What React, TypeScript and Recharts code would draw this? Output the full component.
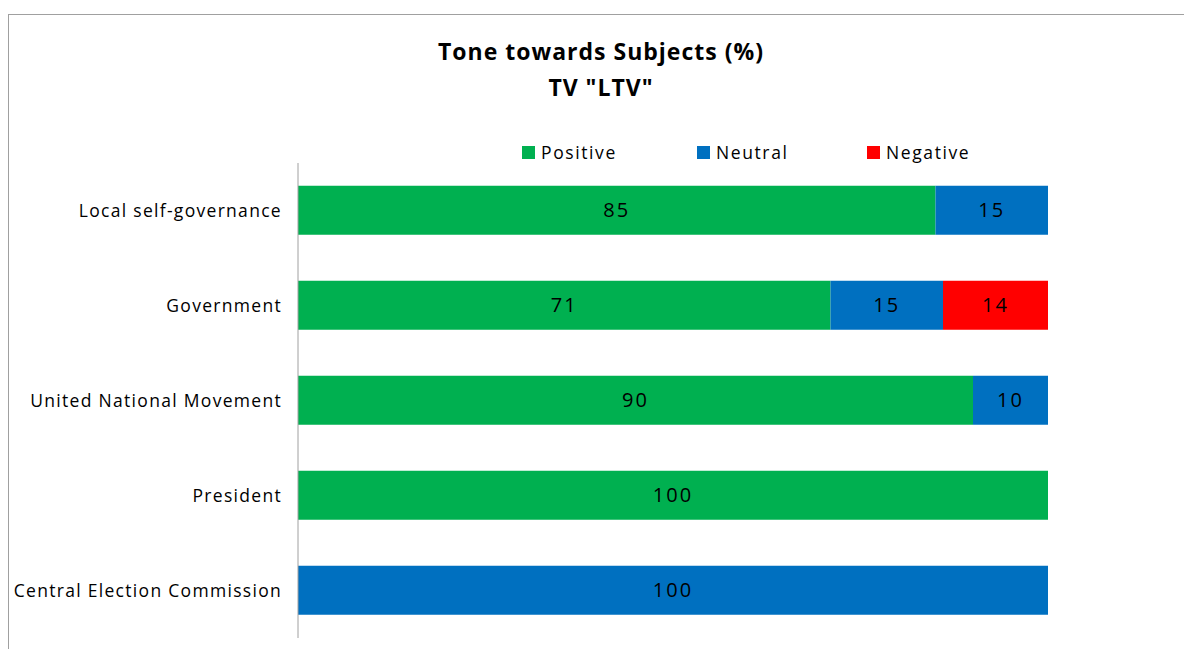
import { BarChart, Bar, XAxis, YAxis, LabelList } from 'recharts';

const subjects = [
  'Local self-governance',
  'Government',
  'United National Movement',
  'President',
  'Central Election Commission',
];
const positive = [85, 71, 90, 100, null];
const neutral = [15, 15, 10, null, 100];
const negative = [null, 14, null, null, null];

const FONT = '"Open Sans", Lato, sans-serif';
const GREEN = '#00B050';
const BLUE = '#0070C0';
const RED = '#FF0000';

const legendItems = [
  { name: 'Positive', color: GREEN, left: 522 },
  { name: 'Neutral', color: BLUE, left: 697 },
  { name: 'Negative', color: RED, left: 867 },
];

export default function App() {
  const data = subjects.map((subject, i) => ({
    subject,
    positive: positive[i],
    neutral: neutral[i],
    negative: negative[i],
  }));

  const label = { fill: '#000', fontSize: 20, fontFamily: FONT, letterSpacing: 2 };

  return (
    <div style={{ position: 'absolute', left: 0, top: 0, width: 1184, height: 649, background: '#fff', overflow: 'hidden', fontFamily: FONT }}>
      <div style={{ position: 'absolute', left: 8, top: 14, width: 1200, height: 700, border: '1px solid #a0a0a0' }} />
      <div style={{ position: 'absolute', left: 0, width: 1202, top: 33, textAlign: 'center', fontWeight: 'bold', fontSize: 23, letterSpacing: 1, lineHeight: '36px', color: '#000' }}>
        Tone towards Subjects (%)
        <br />
        TV "LTV"
      </div>
      {legendItems.map((item) => (
        <div key={item.name} style={{ position: 'absolute', left: item.left, top: 140, display: 'flex', alignItems: 'center', fontSize: 17.5, letterSpacing: 1.6, color: '#000' }}>
          <span style={{ display: 'inline-block', width: 13, height: 13, background: item.color, marginRight: 6 }} />
          {item.name}
        </div>
      ))}
      <BarChart
        width={1184}
        height={649}
        data={data}
        layout="vertical"
        margin={{ top: 163, right: 136, bottom: 11, left: 0 }}
        barCategoryGap="24%"
        style={{ position: 'absolute', left: 0, top: 0 }}
      >
        <XAxis type="number" domain={[0, 100]} hide />
        <YAxis
          type="category"
          dataKey="subject"
          width={298}
          axisLine={{ stroke: '#a0a0a0' }}
          tickLine={false}
          tickMargin={10}
          tick={{ fill: '#000', fontSize: 17.5, fontFamily: FONT, letterSpacing: 1.3 }}
        />
        <Bar dataKey="positive" stackId="a" fill={GREEN} isAnimationActive={false}>
          <LabelList dataKey="positive" position="center" style={label} />
        </Bar>
        <Bar dataKey="neutral" stackId="a" fill={BLUE} isAnimationActive={false}>
          <LabelList dataKey="neutral" position="center" style={label} />
        </Bar>
        <Bar dataKey="negative" stackId="a" fill={RED} isAnimationActive={false}>
          <LabelList dataKey="negative" position="center" style={label} />
        </Bar>
      </BarChart>
    </div>
  );
}
